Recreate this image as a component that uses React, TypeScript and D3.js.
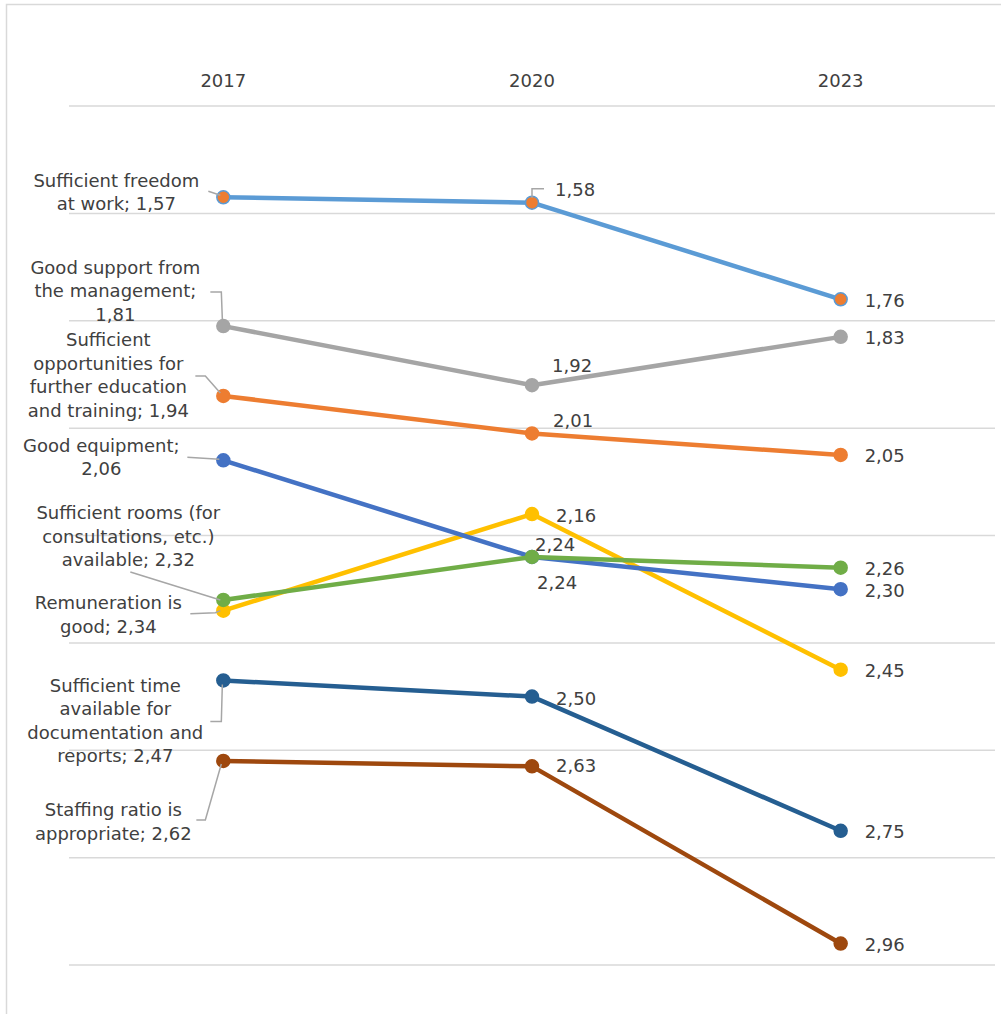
import React from 'react';
import * as d3 from 'd3';

const categories = ['2017', '2020', '2023'];

const seriesNames = [
  'Sufficient freedom at work',
  'Good support from the management',
  'Sufficient opportunities for further education and training',
  'Good equipment',
  'Sufficient rooms (for consultations, etc.) available',
  'Remuneration is good',
  'Sufficient time available for documentation and reports',
  'Staffing ratio is appropriate',
];

const freedomValues = [1.57, 1.58, 1.76];
const supportValues = [1.81, 1.92, 1.83];
const educationValues = [1.94, 2.01, 2.05];
const equipmentValues = [2.06, 2.24, 2.3];
const roomsValues = [2.32, 2.24, 2.26];
const remunerationValues = [2.34, 2.16, 2.45];
const timeValues = [2.47, 2.5, 2.75];
const staffingValues = [2.62, 2.63, 2.96];

const seriesValues = [
  freedomValues,
  supportValues,
  educationValues,
  equipmentValues,
  roomsValues,
  remunerationValues,
  timeValues,
  staffingValues,
];

const yTicks = [1.4, 1.6, 1.8, 2.0, 2.2, 2.4, 2.6, 2.8, 3.0];

// styles
const lineColors = ['#5B9BD5', '#A5A5A5', '#ED7D31', '#4472C4', '#70AD47', '#FFC000', '#255E91', '#9E480E'];
const markerFills = ['#ED7D31', '#A5A5A5', '#ED7D31', '#4472C4', '#70AD47', '#FFC000', '#255E91', '#9E480E'];
const drawOrder = [0, 1, 2, 5, 3, 4, 6, 7];

// 2017 label layout (relative to point): wrapped lines, text center offset, first-line offset, leader polyline
const firstLabels = [
  { lines: ['Sufficient freedom', 'at work; {v}'], dx: -107, dy: -17, leader: [[-15, -6], [-3, -2]] },
  { lines: ['Good support from', 'the management;', '{v}'], dx: -108, dy: -59, leader: [[-13, -34], [-2, -34], [-1, -7]] },
  { lines: ['Sufficient', 'opportunities for', 'further education', 'and training; {v}'], dx: -115, dy: -56, leader: [[-28, -20], [-18, -20], [-3, -3]] },
  { lines: ['Good equipment;', '{v}'], dx: -122, dy: -15, leader: [[-36, -3], [-4, -1]] },
  { lines: ['Sufficient rooms (for', 'consultations, etc.)', 'available; {v}'], dx: -95, dy: -87, leader: [[-93, -28], [-3, 0]] },
  { lines: ['Remuneration is', 'good; {v}'], dx: -115, dy: -8, leader: [[-33, 3], [-8, 2], [-3, 0]] },
  { lines: ['Sufficient time', 'available for', 'documentation and', 'reports; {v}'], dx: -108, dy: 5, leader: [[-13, 41], [-2, 41], [-1, 4]] },
  { lines: ['Staffing ratio is', 'appropriate; {v}'], dx: -110, dy: 49, leader: [[-27, 59], [-18, 59], [-2, 3]] },
];

// 2020 label offsets (text start, text center)
const midLabels = [
  { dx: 23, dy: -13, leader: [[0, -5], [0, -14], [12, -14]] },
  { dx: 20, dy: -20, leader: null },
  { dx: 21, dy: -13, leader: null },
  { dx: 5, dy: 26, leader: null },
  { dx: 3, dy: -12, leader: null },
  { dx: 24, dy: 1, leader: null },
  { dx: 24, dy: 2, leader: null },
  { dx: 24, dy: -1, leader: null },
];

const W = 1001;
const H = 1014;
const FONT = '"DejaVu Sans", sans-serif';
const TEXT = '#404040';

const fmt = (v: number) => d3.format('.2f')(v).replace('.', ',');

export default function App() {
  const x = d3.scaleBand<string>().domain(categories).range([69, 995]);
  const y = d3.scaleLinear().domain([1.4, 3.0]).range([106, 965]);
  const cx = (c: string) => (x(c) as number) + x.bandwidth() / 2;
  const line = d3
    .line<number>()
    .x((_, i) => cx(categories[i]))
    .y((v) => y(v));

  return (
    <svg width={W} height={H} style={{ position: 'absolute', left: 0, top: 0 }} fontFamily={FONT}>
      <rect x={0} y={0} width={W} height={H} fill="#fff" />
      <rect x={6.5} y={4.5} width={1100} height={1100} fill="none" stroke="#d9d9d9" strokeWidth={1.5} />
      {yTicks.map((t) => (
        <line key={t} x1={69} x2={995} y1={y(t)} y2={y(t)} stroke="#d9d9d9" strokeWidth={1.5} />
      ))}
      {categories.map((c) => (
        <text key={c} x={cx(c)} y={80} textAnchor="middle" dominantBaseline="central" fontSize={18} fill={TEXT}>
          {c}
        </text>
      ))}
      {drawOrder.map((si) => {
        const vals = seriesValues[si];
        return (
          <g key={seriesNames[si]}>
            <path d={line(vals) || ''} fill="none" stroke={lineColors[si]} strokeWidth={4.5} strokeLinejoin="round" />
            {vals.map((v, i) => (
              <circle
                key={i}
                cx={cx(categories[i])}
                cy={y(v)}
                r={6.5}
                fill={markerFills[si]}
                stroke={lineColors[si]}
                strokeWidth={1.5}
              />
            ))}
          </g>
        );
      })}
      {seriesValues.map((vals, si) => {
        const p0x = cx(categories[0]);
        const p0y = y(vals[0]);
        const fl = firstLabels[si];
        const p1x = cx(categories[1]);
        const p1y = y(vals[1]);
        const ml = midLabels[si];
        const p2x = cx(categories[2]);
        const p2y = y(vals[2]);
        return (
          <g key={'lab' + si}>
            <polyline
              points={fl.leader.map(([a, b]) => `${p0x + a},${p0y + b}`).join(' ')}
              fill="none"
              stroke="#A6A6A6"
              strokeWidth={1.5}
            />
            {fl.lines.map((ln, li) => (
              <text
                key={li}
                x={p0x + fl.dx}
                y={p0y + fl.dy + li * 23.5}
                textAnchor="middle"
                dominantBaseline="central"
                fontSize={18}
                fill={TEXT}
              >
                {ln.replace('{v}', fmt(vals[0]))}
              </text>
            ))}
            {ml.leader && (
              <polyline
                points={ml.leader.map(([a, b]) => `${p1x + a},${p1y + b}`).join(' ')}
                fill="none"
                stroke="#A6A6A6"
                strokeWidth={1.5}
              />
            )}
            <text x={p1x + ml.dx} y={p1y + ml.dy} dominantBaseline="central" fontSize={18} fill={TEXT}>
              {fmt(vals[1])}
            </text>
            <text x={p2x + 24} y={p2y + 1} dominantBaseline="central" fontSize={18} fill={TEXT}>
              {fmt(vals[2])}
            </text>
          </g>
        );
      })}
    </svg>
  );
}
